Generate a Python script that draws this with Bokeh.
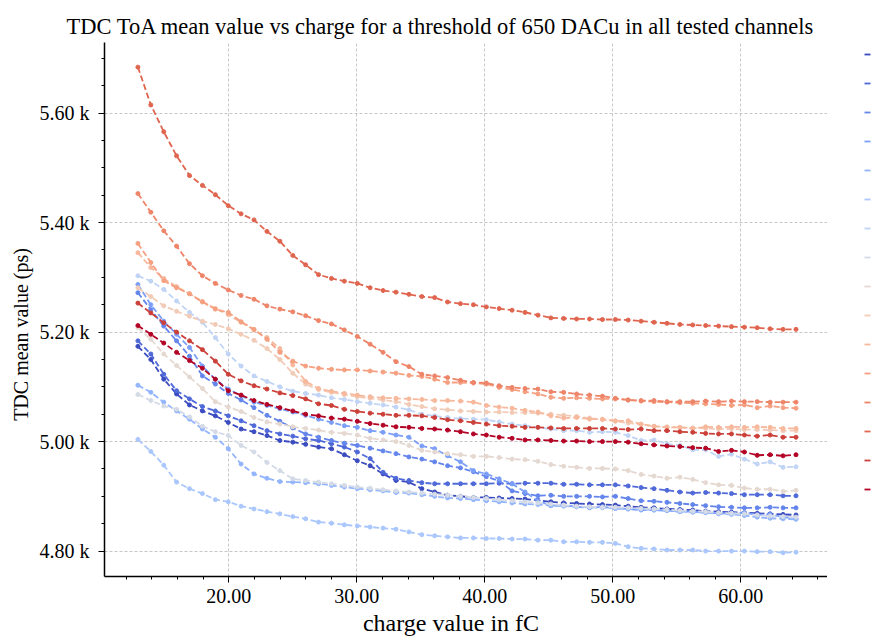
from bokeh.plotting import figure
from bokeh.layouts import row
from bokeh.models import (FixedTicker, CustomJSTickFormatter, PrintfTickFormatter,
                          Legend, LegendItem, Range1d)
from bokeh.embed import file_html
from bokeh.resources import INLINE

# charge values (fC)
charge = [12.90, 13.91, 14.92, 15.92, 16.93, 17.94, 18.95, 19.96, 20.96, 21.97,
          22.98, 23.99, 25.00, 26.00, 27.01, 28.02, 29.03, 30.04, 31.04, 32.05,
          33.06, 34.07, 35.08, 36.08, 37.09, 38.10, 39.11, 40.12, 41.12, 42.13,
          43.14, 44.15, 45.16, 46.16, 47.17, 48.18, 49.19, 50.20, 51.20, 52.21,
          53.22, 54.23, 55.24, 56.24, 57.25, 58.26, 59.27, 60.28, 61.28, 62.29,
          63.30, 64.31]

# TDC ToA mean value (ps) per channel
ch00 = [5174, 5150, 5114, 5087, 5067, 5056, 5047, 5035, 5023, 5018, 5011, 5002, 4999, 4995, 4990, 4987, 4976, 4965, 4956, 4941,
        4929, 4926, 4914, 4908, 4902, 4900, 4898, 4898, 4897, 4896, 4895, 4893, 4890, 4888, 4887, 4886, 4885, 4884, 4882, 4880,
        4879, 4877, 4876, 4875, 4873, 4872, 4871, 4870, 4869, 4868, 4867, 4866]
ch01 = [5184, 5160, 5123, 5093, 5078, 5064, 5056, 5047, 5038, 5029, 5020, 5014, 5010, 5005, 5002, 4996, 4990, 4981, 4969, 4944,
        4933, 4929, 4925, 4923, 4923, 4923, 4923, 4923, 4924, 4923, 4924, 4924, 4924, 4922, 4922, 4921, 4921, 4921, 4919, 4916,
        4914, 4911, 4908, 4906, 4907, 4906, 4905, 4903, 4903, 4903, 4901, 4901]
ch02 = [5272, 5241, 5211, 5184, 5156, 5120, 5105, 5088, 5076, 5062, 5048, 5037, 5025, 5014, 5008, 5002, 4997, 4993, 4988, 4983,
        4978, 4972, 4968, 4963, 4956, 4952, 4945, 4936, 4928, 4910, 4905, 4901, 4902, 4900, 4900, 4900, 4899, 4900, 4896, 4892,
        4891, 4889, 4887, 4885, 4883, 4881, 4880, 4879, 4879, 4880, 4879, 4879]
ch03 = [5287, 5250, 5220, 5196, 5172, 5138, 5114, 5096, 5084, 5072, 5066, 5060, 5054, 5048, 5041, 5035, 5029, 5026, 5020, 5017,
        5012, 5008, 4992, 4987, 4974, 4963, 4947, 4941, 4932, 4923, 4908, 4892, 4883, 4884, 4881, 4879, 4881, 4878, 4877, 4875,
        4875, 4874, 4872, 4872, 4871, 4869, 4869, 4870, 4866, 4867, 4862, 4860]
ch04 = [5103, 5090, 5072, 5056, 5041, 5023, 5008, 4987, 4959, 4941, 4933, 4927, 4926, 4925, 4923, 4920, 4917, 4914, 4912, 4910,
        4907, 4906, 4903, 4900, 4897, 4896, 4894, 4892, 4890, 4888, 4886, 4885, 4883, 4882, 4881, 4880, 4879, 4878, 4877, 4876,
        4875, 4874, 4872, 4871, 4870, 4868, 4867, 4865, 4862, 4860, 4859, 4858]
ch05 = [5004, 4982, 4957, 4926, 4914, 4905, 4894, 4890, 4882, 4877, 4872, 4868, 4863, 4859, 4853, 4851, 4848, 4846, 4844, 4842,
        4840, 4835, 4830, 4828, 4826, 4824, 4824, 4823, 4823, 4822, 4822, 4820, 4820, 4817, 4817, 4816, 4816, 4814, 4808, 4805,
        4804, 4802, 4802, 4802, 4800, 4800, 4800, 4800, 4799, 4799, 4797, 4798]
ch06 = [5303, 5293, 5278, 5257, 5236, 5218, 5190, 5160, 5138, 5120, 5110, 5100, 5092, 5088, 5085, 5080, 5077, 5073, 5070, 5067,
        5063, 5058, 5050, 5047, 5044, 5042, 5041, 5040, 5036, 5032, 5029, 5026, 5023, 5020, 5020, 5017, 5018, 5017, 5011, 5002,
        5003, 4996, 4993, 4985, 4985, 4973, 4977, 4968, 4959, 4963, 4953, 4954]
ch07 = [5086, 5075, 5065, 5059, 5045, 5028, 5018, 5011, 4993, 4981, 4962, 4947, 4932, 4929, 4926, 4923, 4920, 4917, 4915, 4912,
        4910, 4908, 4906, 4904, 4902, 4900, 4898, 4896, 4894, 4892, 4890, 4888, 4886, 4884, 4882, 4881, 4880, 4880, 4879, 4878,
        4877, 4876, 4874, 4873, 4872, 4870, 4869, 4868, 4866, 4864, 4863, 4862]
ch08 = [5208, 5187, 5160, 5139, 5118, 5097, 5073, 5063, 5055, 5044, 5036, 5032, 5027, 5024, 5021, 5017, 5015, 5012, 5006, 5003,
        5000, 4993, 4984, 4981, 4978, 4976, 4973, 4973, 4971, 4968, 4967, 4964, 4958, 4955, 4953, 4951, 4951, 4950, 4947, 4940,
        4937, 4933, 4935, 4931, 4925, 4921, 4920, 4915, 4913, 4913, 4909, 4911]
ch09 = [5281, 5265, 5248, 5238, 5229, 5220, 5214, 5206, 5196, 5185, 5170, 5150, 5125, 5105, 5095, 5090, 5086, 5082, 5079, 5076,
        5073, 5068, 5064, 5060, 5058, 5056, 5055, 5054, 5054, 5053, 5053, 5052, 5050, 5048, 5046, 5043, 5040, 5037, 5034, 5031,
        5028, 5027, 5026, 5025, 5024, 5023, 5023, 5022, 5022, 5021, 5020, 5020]
ch10 = [5345, 5318, 5298, 5283, 5270, 5256, 5243, 5232, 5218, 5204, 5190, 5170, 5140, 5110, 5097, 5092, 5088, 5085, 5082, 5080,
        5079, 5078, 5077, 5075, 5075, 5074, 5072, 5066, 5063, 5061, 5057, 5054, 5047, 5043, 5044, 5041, 5041, 5038, 5038, 5032,
        5028, 5026, 5026, 5024, 5027, 5026, 5027, 5026, 5027, 5026, 5024, 5024]
ch11 = [5362, 5327, 5294, 5281, 5270, 5255, 5242, 5236, 5219, 5205, 5187, 5163, 5147, 5138, 5134, 5132, 5131, 5131, 5129, 5127,
        5125, 5121, 5119, 5114, 5108, 5108, 5107, 5105, 5099, 5095, 5091, 5087, 5081, 5079, 5080, 5079, 5078, 5078, 5076, 5074,
        5073, 5072, 5071, 5070, 5069, 5068, 5066, 5067, 5062, 5065, 5062, 5061]
ch12 = [5453, 5419, 5385, 5357, 5325, 5303, 5289, 5277, 5267, 5260, 5248, 5242, 5237, 5230, 5221, 5215, 5204, 5192, 5178, 5163,
        5146, 5137, 5123, 5120, 5117, 5112, 5108, 5107, 5102, 5099, 5097, 5096, 5091, 5090, 5087, 5085, 5083, 5079, 5076, 5075,
        5075, 5073, 5073, 5073, 5074, 5073, 5074, 5073, 5073, 5072, 5072, 5072]
ch13 = [5684, 5615, 5566, 5522, 5486, 5468, 5451, 5431, 5416, 5405, 5384, 5366, 5340, 5323, 5305, 5298, 5293, 5289, 5281, 5276,
        5273, 5269, 5265, 5263, 5255, 5252, 5250, 5246, 5243, 5240, 5236, 5231, 5226, 5225, 5224, 5224, 5223, 5223, 5222, 5220,
        5218, 5216, 5214, 5213, 5212, 5211, 5210, 5209, 5208, 5206, 5205, 5205]
ch14 = [5253, 5235, 5217, 5200, 5184, 5168, 5147, 5123, 5111, 5102, 5096, 5089, 5084, 5078, 5069, 5066, 5059, 5055, 5052, 5050,
        5048, 5048, 5047, 5044, 5040, 5038, 5035, 5032, 5029, 5028, 5026, 5026, 5025, 5024, 5024, 5024, 5024, 5023, 5022, 5023,
        5020, 5020, 5018, 5017, 5015, 5014, 5014, 5012, 5010, 5012, 5008, 5008]
ch15 = [5212, 5196, 5180, 5163, 5148, 5134, 5114, 5093, 5085, 5075, 5068, 5062, 5056, 5050, 5047, 5043, 5041, 5037, 5033, 5030,
        5027, 5026, 5024, 5023, 5021, 5018, 5014, 5012, 5008, 5006, 5003, 5003, 5002, 5001, 5001, 5000, 5000, 5000, 4999, 4996,
        4994, 4992, 4991, 4989, 4988, 4982, 4984, 4981, 4975, 4976, 4974, 4976]

channels = [ch00, ch01, ch02, ch03, ch04, ch05, ch06, ch07,
            ch08, ch09, ch10, ch11, ch12, ch13, ch14, ch15]

# coolwarm colormap sampled at 16 points
colors = ["#3b4cc0", "#4f69d9", "#6485ec", "#7b9ff9", "#93b5fe", "#aac7fd", "#c0d4f5", "#d4dbe6",
          "#e5d8d1", "#f2cbb7", "#f7b89c", "#f5a081", "#ee8468", "#e0654f", "#cc403a", "#b40426"]

y_ticks = [4800, 5000, 5200, 5400, 5600]
y_minor = [4750 + 50 * i for i in range(20)]
x_ticks = [20, 30, 40, 50, 60]
x_minor = [10 + 2 * i for i in range(29)]

SERIF = "Liberation Serif"
DASH = "6 3"
NBSP = "\u00a0"

p = figure(width=827, height=638, output_backend="svg", toolbar_location=None,
           x_range=Range1d(10.29, 66.77), y_range=Range1d(4753.6, 5729.0),
           min_border_left=104, min_border_right=0, min_border_top=42, min_border_bottom=60)

p.title.text = "TDC ToA mean value vs charge for a threshold of 650 DACu in all tested channels"
p.title.text_font = SERIF
p.title.text_font_size = "22.5px"
p.title.text_font_style = "normal"
p.title.text_color = "black"
p.title.align = "left"
p.title.offset = -38
p.title.standoff = 8

p.outline_line_color = None
p.background_fill_color = "white"
p.border_fill_color = "white"

for vals, col in zip(channels, colors):
    p.line(charge, vals, line_color=col, line_width=1.8, line_dash=DASH)
    p.scatter(charge, vals, size=4, fill_color=col, line_color=col)

for ax in (p.xaxis[0], p.yaxis[0]):
    ax.axis_line_color = "black"
    ax.axis_line_width = 1.5
    ax.major_tick_line_color = "black"
    ax.minor_tick_line_color = "black"
    ax.major_tick_out = 6
    ax.major_tick_in = 0
    ax.minor_tick_out = 3
    ax.minor_tick_in = 0
    ax.major_label_text_font = SERIF
    ax.major_label_text_font_size = "20px"
    ax.major_label_text_color = "black"
    ax.axis_label_text_font = SERIF
    ax.axis_label_text_font_style = "normal"
    ax.axis_label_text_color = "black"

p.xaxis.axis_label_text_font_size = "24px"
p.yaxis.axis_label_text_font_size = "20px"
p.xaxis.ticker = FixedTicker(ticks=x_ticks, minor_ticks=x_minor)
p.yaxis.ticker = FixedTicker(ticks=y_ticks, minor_ticks=y_minor)
p.xaxis.formatter = PrintfTickFormatter(format="%.2f")
p.yaxis.formatter = CustomJSTickFormatter(code="return (tick / 1000).toFixed(2) + ' k';")
# trailing no-break spaces nudge the labels toward the lower-left, as in the original
p.xaxis.axis_label = "charge value in fC" + NBSP * 5
p.yaxis.axis_label = "TDC mean value (ps)" + NBSP * 10
p.xaxis.major_label_standoff = 6
p.yaxis.major_label_standoff = 9
p.xaxis.axis_label_standoff = 4
p.yaxis.axis_label_standoff = 5

for g in (p.xgrid[0], p.ygrid[0]):
    g.grid_line_color = "#b8b8b8"
    g.grid_line_width = 0.8
    g.grid_line_dash = "3 2"

# legend strip to the right (labels fall outside the visible page)
pl = figure(width=47, height=638, output_backend="svg", toolbar_location=None,
            x_range=Range1d(0, 1), y_range=Range1d(0, 1),
            x_axis_location=None, y_axis_location=None,
            min_border_left=0, min_border_right=0, min_border_top=0, min_border_bottom=0)
pl.grid.visible = False
pl.outline_line_color = None
pl.background_fill_color = "white"
pl.border_fill_color = "white"

items = []
for col in colors:
    r = pl.line([0.5, 0.5], [2.0, 2.0], line_color=col, line_width=1.8, line_dash=DASH)
    items.append(LegendItem(label=" ", renderers=[r]))

legend = Legend(items=items, location=(37, 77), glyph_width=8, glyph_height=20,
                label_height=20, spacing=9, padding=0, margin=0, label_width=0,
                label_standoff=0, label_text_font_size="1px",
                border_line_color=None, background_fill_alpha=0)
pl.add_layout(legend, "center")

layout = row(p, pl, spacing=0)

open("out.html", "w").write(file_html(layout, INLINE))
